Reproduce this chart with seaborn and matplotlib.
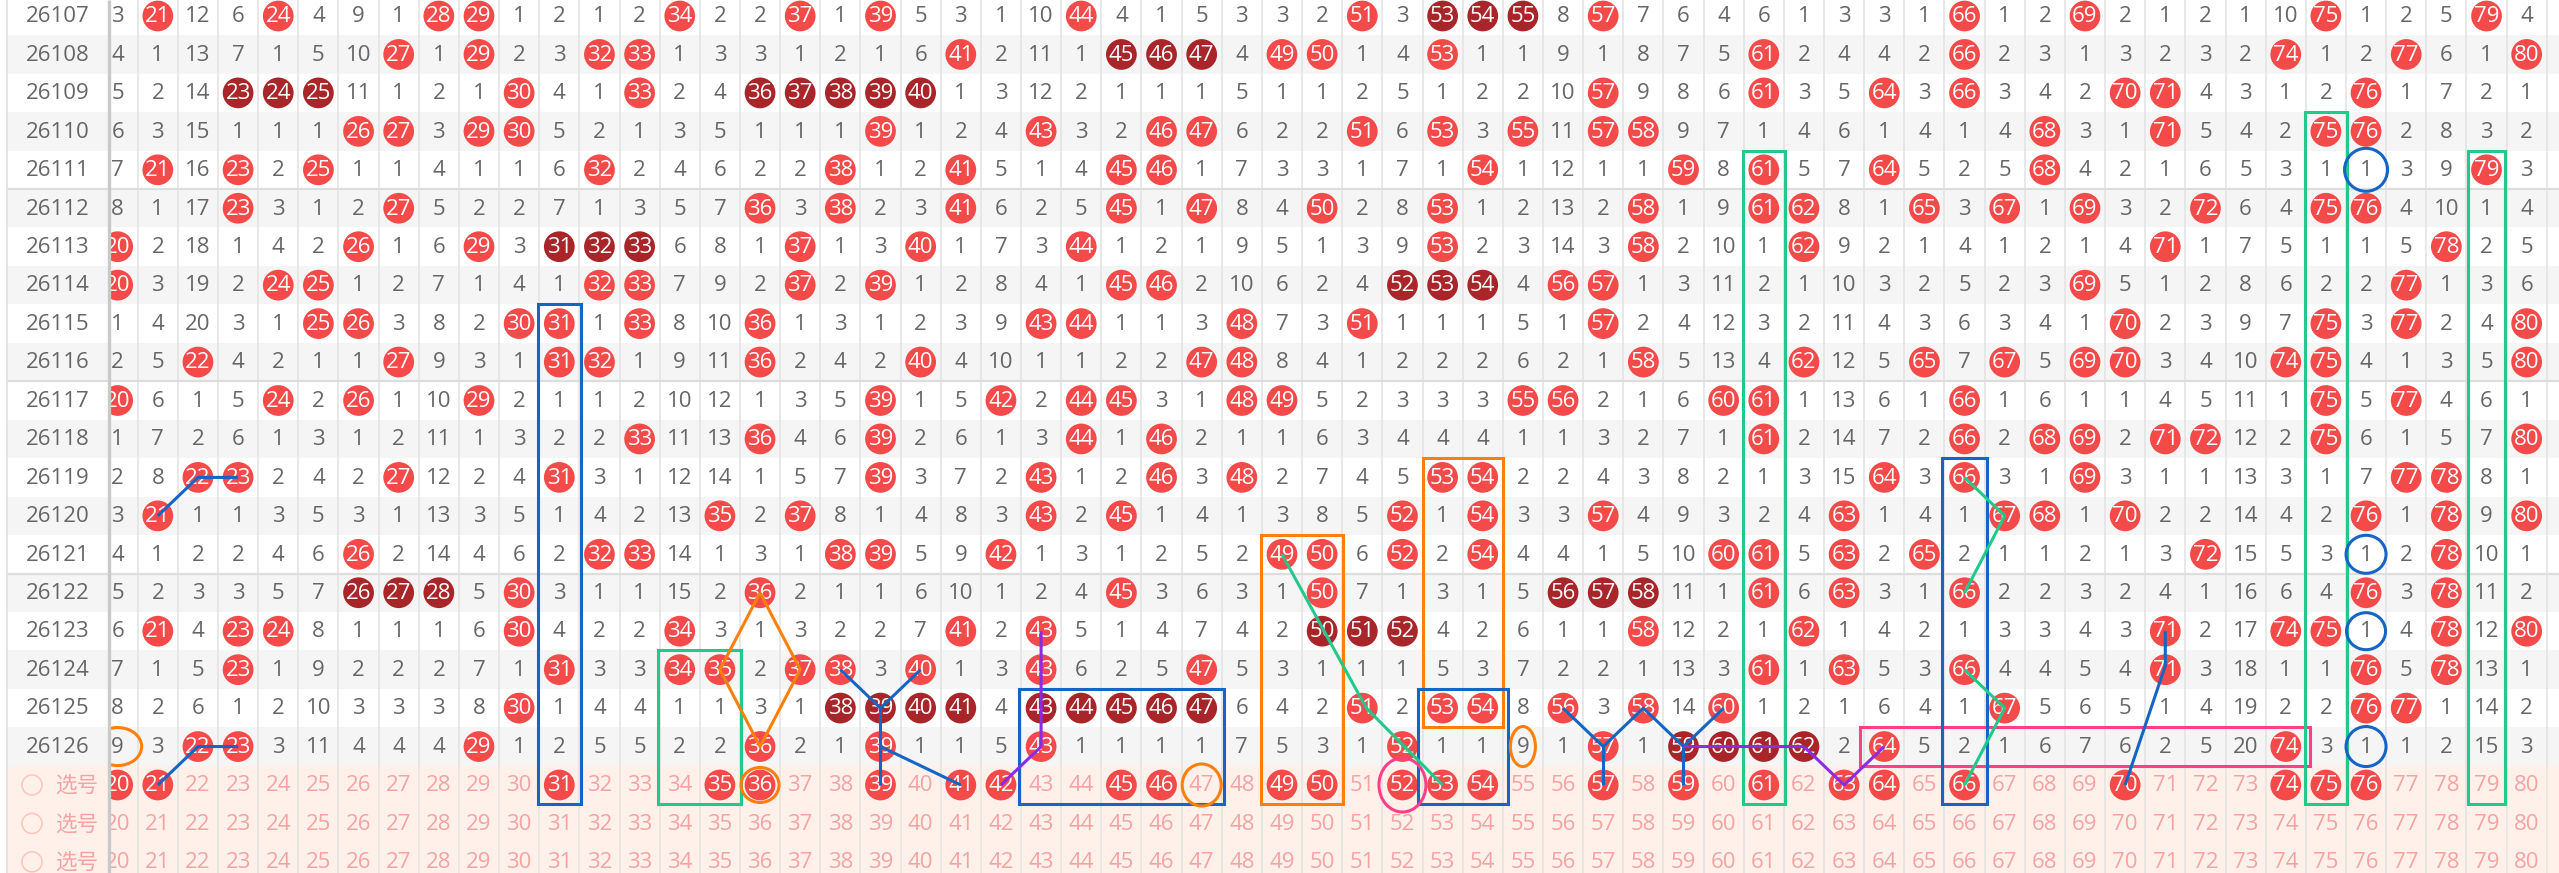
import matplotlib
matplotlib.use("Agg")
import matplotlib.pyplot as plt
from matplotlib.patches import Rectangle, Ellipse
import pandas as pd
import seaborn as sns

# periods shown in the trend table, numbers 20..80 are visible
periods = [26107, 26108, 26109, 26110, 26111, 26112, 26113, 26114, 26115, 26116,
           26117, 26118, 26119, 26120, 26121, 26122, 26123, 26124, 26125, 26126]
numbers = list(range(20, 81))

# omission count per number (20..80), 0 = drawn in that period
miss_26107 = [3, 0, 12, 6, 0, 4, 9, 1, 0, 0, 1, 2, 1, 2, 0, 2, 2, 0, 1, 0, 5, 3, 1, 10, 0, 4, 1, 5, 3, 3,
              2, 0, 3, 0, 0, 0, 8, 0, 7, 6, 4, 6, 1, 3, 3, 1, 0, 1, 2, 0, 2, 1, 2, 1, 10, 0, 1, 2, 5, 0, 4]
miss_26108 = [4, 1, 13, 7, 1, 5, 10, 0, 1, 0, 2, 3, 0, 0, 1, 3, 3, 1, 2, 1, 6, 0, 2, 11, 1, 0, 0, 0, 4, 0,
              0, 1, 4, 0, 1, 1, 9, 1, 8, 7, 5, 0, 2, 4, 4, 2, 0, 2, 3, 1, 3, 2, 3, 2, 0, 1, 2, 0, 6, 1, 0]
miss_26109 = [5, 2, 14, 0, 0, 0, 11, 1, 2, 1, 0, 4, 1, 0, 2, 4, 0, 0, 0, 0, 0, 1, 3, 12, 2, 1, 1, 1, 5, 1,
              1, 2, 5, 1, 2, 2, 10, 0, 9, 8, 6, 0, 3, 5, 0, 3, 0, 3, 4, 2, 0, 0, 4, 3, 1, 2, 0, 1, 7, 2, 1]
miss_26110 = [6, 3, 15, 1, 1, 1, 0, 0, 3, 0, 0, 5, 2, 1, 3, 5, 1, 1, 1, 0, 1, 2, 4, 0, 3, 2, 0, 0, 6, 2,
              2, 0, 6, 0, 3, 0, 11, 0, 0, 9, 7, 1, 4, 6, 1, 4, 1, 4, 0, 3, 1, 0, 5, 4, 2, 0, 0, 2, 8, 3, 2]
miss_26111 = [7, 0, 16, 0, 2, 0, 1, 1, 4, 1, 1, 6, 0, 2, 4, 6, 2, 2, 0, 1, 2, 0, 5, 1, 4, 0, 0, 1, 7, 3,
              3, 1, 7, 1, 0, 1, 12, 1, 1, 0, 8, 0, 5, 7, 0, 5, 2, 5, 0, 4, 2, 1, 6, 5, 3, 1, 1, 3, 9, 0, 3]
miss_26112 = [8, 1, 17, 0, 3, 1, 2, 0, 5, 2, 2, 7, 1, 3, 5, 7, 0, 3, 0, 2, 3, 0, 6, 2, 5, 0, 1, 0, 8, 4,
              0, 2, 8, 0, 1, 2, 13, 2, 0, 1, 9, 0, 0, 8, 1, 0, 3, 0, 1, 0, 3, 2, 0, 6, 4, 0, 0, 4, 10, 1, 4]
miss_26113 = [0, 2, 18, 1, 4, 2, 0, 1, 6, 0, 3, 0, 0, 0, 6, 8, 1, 0, 1, 3, 0, 1, 7, 3, 0, 1, 2, 1, 9, 5,
              1, 3, 9, 0, 2, 3, 14, 3, 0, 2, 10, 1, 0, 9, 2, 1, 4, 1, 2, 1, 4, 0, 1, 7, 5, 1, 1, 5, 0, 2, 5]
miss_26114 = [0, 3, 19, 2, 0, 0, 1, 2, 7, 1, 4, 1, 0, 0, 7, 9, 2, 0, 2, 0, 1, 2, 8, 4, 1, 0, 0, 2, 10, 6,
              2, 4, 0, 0, 0, 4, 0, 0, 1, 3, 11, 2, 1, 10, 3, 2, 5, 2, 3, 0, 5, 1, 2, 8, 6, 2, 2, 0, 1, 3, 6]
miss_26115 = [1, 4, 20, 3, 1, 0, 0, 3, 8, 2, 0, 0, 1, 0, 8, 10, 0, 1, 3, 1, 2, 3, 9, 0, 0, 1, 1, 3, 0, 7,
              3, 0, 1, 1, 1, 5, 1, 0, 2, 4, 12, 3, 2, 11, 4, 3, 6, 3, 4, 1, 0, 2, 3, 9, 7, 0, 3, 0, 2, 4, 0]
miss_26116 = [2, 5, 0, 4, 2, 1, 1, 0, 9, 3, 1, 0, 0, 1, 9, 11, 0, 2, 4, 2, 0, 4, 10, 1, 1, 2, 2, 0, 0, 8,
              4, 1, 2, 2, 2, 6, 2, 1, 0, 5, 13, 4, 0, 12, 5, 0, 7, 0, 5, 0, 0, 3, 4, 10, 0, 0, 4, 1, 3, 5, 0]
miss_26117 = [0, 6, 1, 5, 0, 2, 0, 1, 10, 0, 2, 1, 1, 2, 10, 12, 1, 3, 5, 0, 1, 5, 0, 2, 0, 0, 3, 1, 0, 0,
              5, 2, 3, 3, 3, 0, 0, 2, 1, 6, 0, 0, 1, 13, 6, 1, 0, 1, 6, 1, 1, 4, 5, 11, 1, 0, 5, 0, 4, 6, 1]
miss_26118 = [1, 7, 2, 6, 1, 3, 1, 2, 11, 1, 3, 2, 2, 0, 11, 13, 0, 4, 6, 0, 2, 6, 1, 3, 0, 1, 0, 2, 1, 1,
              6, 3, 4, 4, 4, 1, 1, 3, 2, 7, 1, 0, 2, 14, 7, 2, 0, 2, 0, 0, 2, 0, 0, 12, 2, 0, 6, 1, 5, 7, 0]
miss_26119 = [2, 8, 0, 0, 2, 4, 2, 0, 12, 2, 4, 0, 3, 1, 12, 14, 1, 5, 7, 0, 3, 7, 2, 0, 1, 2, 0, 3, 0, 2,
              7, 4, 5, 0, 0, 2, 2, 4, 3, 8, 2, 1, 3, 15, 0, 3, 0, 3, 1, 0, 3, 1, 1, 13, 3, 1, 7, 0, 0, 8, 1]
miss_26120 = [3, 0, 1, 1, 3, 5, 3, 1, 13, 3, 5, 1, 4, 2, 13, 0, 2, 0, 8, 1, 4, 8, 3, 0, 2, 0, 1, 4, 1, 3,
              8, 5, 0, 1, 0, 3, 3, 0, 4, 9, 3, 2, 4, 0, 1, 4, 1, 0, 0, 1, 0, 2, 2, 14, 4, 2, 0, 1, 0, 9, 0]
miss_26121 = [4, 1, 2, 2, 4, 6, 0, 2, 14, 4, 6, 2, 0, 0, 14, 1, 3, 1, 0, 0, 5, 9, 0, 1, 3, 1, 2, 5, 2, 0,
              0, 6, 0, 2, 0, 4, 4, 1, 5, 10, 0, 0, 5, 0, 2, 0, 2, 1, 1, 2, 1, 3, 0, 15, 5, 3, 1, 2, 0, 10, 1]
miss_26122 = [5, 2, 3, 3, 5, 7, 0, 0, 0, 5, 0, 3, 1, 1, 15, 2, 0, 2, 1, 1, 6, 10, 1, 2, 4, 0, 3, 6, 3, 1,
              0, 7, 1, 3, 1, 5, 0, 0, 0, 11, 1, 0, 6, 0, 3, 1, 0, 2, 2, 3, 2, 4, 1, 16, 6, 4, 0, 3, 0, 11, 2]
miss_26123 = [6, 0, 4, 0, 0, 8, 1, 1, 1, 6, 0, 4, 2, 2, 0, 3, 1, 3, 2, 2, 7, 0, 2, 0, 5, 1, 4, 7, 4, 2,
              0, 0, 0, 4, 2, 6, 1, 1, 0, 12, 2, 1, 0, 1, 4, 2, 1, 3, 3, 4, 3, 0, 2, 17, 0, 0, 1, 4, 0, 12, 0]
miss_26124 = [7, 1, 5, 0, 1, 9, 2, 2, 2, 7, 1, 0, 3, 3, 0, 0, 2, 0, 0, 3, 0, 1, 3, 0, 6, 2, 5, 0, 5, 3,
              1, 1, 1, 5, 3, 7, 2, 2, 1, 13, 3, 0, 1, 0, 5, 3, 0, 4, 4, 5, 4, 0, 3, 18, 1, 1, 0, 5, 0, 13, 1]
miss_26125 = [8, 2, 6, 1, 2, 10, 3, 3, 3, 8, 0, 1, 4, 4, 1, 1, 3, 1, 0, 0, 0, 0, 4, 0, 0, 0, 0, 0, 6, 4,
              2, 0, 2, 0, 0, 8, 0, 3, 0, 14, 0, 1, 2, 1, 6, 4, 1, 0, 5, 6, 5, 1, 4, 19, 2, 2, 0, 0, 1, 14, 2]
miss_26126 = [9, 3, 0, 0, 3, 11, 4, 4, 4, 0, 1, 2, 5, 5, 2, 2, 0, 2, 1, 0, 1, 1, 5, 0, 1, 1, 1, 1, 7, 5,
              3, 1, 0, 1, 1, 9, 1, 0, 1, 0, 0, 0, 0, 2, 0, 5, 2, 1, 6, 7, 6, 2, 5, 20, 0, 3, 1, 1, 2, 15, 3]

omission = [miss_26107, miss_26108, miss_26109, miss_26110, miss_26111, miss_26112, miss_26113,
            miss_26114, miss_26115, miss_26116, miss_26117, miss_26118, miss_26119, miss_26120,
            miss_26121, miss_26122, miss_26123, miss_26124, miss_26125, miss_26126]

# numbers ticked in the first "选号" row
picked = [20, 21, 31, 35, 36, 39, 41, 42, 45, 46, 49, 50, 52, 53, 54, 57, 59, 61, 63, 64, 66, 70, 74, 75, 76]
pick_label = "选号"

RED = "#f54a4a"
DARK = "#a8262a"
GRAY_TXT = "#666666"
PINK_TXT = "#f7a3a3"
PINK_BG = "#fff0ea"
ALT_BG = "#f5f5f5"
BLUE = "#1565c4"
GREEN = "#22c98b"
ORANGE = "#ff7f0a"
PURPLE = "#8c2be4"
MAGENTA = "#ff3f86"

# user drawn marks, in (number, period) cells
boxes = [
    (BLUE, 31, 31, 26115, "pick", 0.03),
    (GREEN, 34, 35, 26124, "pick", 0.03),
    (BLUE, 43, 47, 26125, "pick", 0.06),
    (ORANGE, 49, 50, 26121, "pick", 0.03),
    (ORANGE, 53, 54, 26119, 26125, 0.0),
    (BLUE, 53, 54, 26125, "pick", 0.12),
    (GREEN, 61, 61, 26111, "pick", 0.03),
    (MAGENTA, 64, 74, 26126, 26126, 0.1),
    (BLUE, 66, 66, 26119, "pick", 0.06),
    (GREEN, 75, 75, 26110, "pick", 0.03),
    (GREEN, 79, 79, 26111, "pick", -0.05),
]
rings = [
    (ORANGE, 20, 26126, 48, 38),
    (ORANGE, 36, "pick", 38, 35),
    (ORANGE, 47, "pick", 39, 42),
    (MAGENTA, 52, "pick", 47, 54),
    (ORANGE, 55, 26126, 25, 40),
    (BLUE, 76, 26111, 43, 43),
    (BLUE, 76, 26121, 40, 38),
    (BLUE, 76, 26123, 39, 37),
    (BLUE, 76, 26126, 40, 40),
]
paths = [
    (BLUE, [(21, 26120), (22, 26119), (23, 26119)]),
    (BLUE, [(21, "pick"), (22, 26126), (23, 26126)]),
    (ORANGE, [(36, 26122), (37, 26124), (36, 26126), (35, 26124), (36, 26122)]),
    (BLUE, [(38, 26124), (39, 26125), (40, 26124)]),
    (BLUE, [(39, 26125), (39, "pick")]),
    (BLUE, [(39, 26126), (41, "pick")]),
    (PURPLE, [(42, "pick"), (43, 26126), (43, 26123)]),
    (GREEN, [(49, 26121), (51.1, 26125), (53, "pick")]),
    (BLUE, [(56, 26125), (57, 26126), (58, 26125), (59, 26126), (60, 26125)]),
    (BLUE, [(57, 26126), (57, "pick")]),
    (BLUE, [(59, 26126), (59, "pick")]),
    (PURPLE, [(59, 26126), (62, 26126), (63, "pick"), (64, 26126)]),
    (GREEN, [(66, 26119), (67, 26120), (66, 26122)]),
    (GREEN, [(66, 26124), (67, 26125), (66, "pick")]),
    (BLUE, [(71, 26123), (71, 26123.9), (70, "pick")]),
]

sns.set_style("white")
plt.rcParams["font.family"] = ["Open Sans", "Noto Sans CJK SC", "DejaVu Sans"]

W, H, DPI = 2559, 873, 100
COL_W, ROW_H = 40.15, 38.45
X_LEFT = 21 - 157.8 / COL_W
X_RIGHT = X_LEFT + W / COL_W
Y_TOP = -16 / ROW_H
FS = 16


def px_x(px):
    return X_LEFT + px / COL_W


n_per = len(periods)
n_rows = n_per + 3


def row_of(p):
    if p == "pick":
        return n_per
    if p in periods:
        return periods.index(p)
    return periods.index(int(p)) + (p - int(p))


fig = plt.figure(figsize=(W / DPI, H / DPI), dpi=DPI)
ax = fig.add_axes([0, 0, 1, 1])

# row backgrounds
def row_color(r):
    if r >= n_per:
        return PINK_BG
    return ALT_BG if r % 2 else "white"


for r in range(n_rows):
    ax.add_patch(Rectangle((px_x(7), r - 0.5), X_RIGHT - px_x(7), 1,
                           fc=row_color(r), ec="none", zorder=0))

ax.vlines([n + 0.5 for n in numbers], Y_TOP, n_rows, color="#e2e2e2", lw=1.1, zorder=1)
ax.hlines([4.5, 9.5, 14.5], px_x(7), X_RIGHT, color="#dddddd", lw=1.6, zorder=1)

# balls
recs = []
for r, row in enumerate(omission):
    hit = {n for n, v in zip(numbers, row) if v == 0}
    for n in sorted(hit):
        lo = n
        while lo - 1 in hit:
            lo -= 1
        hi = n
        while hi + 1 in hit:
            hi += 1
        recs.append({"num": n, "row": r, "kind": "run" if hi - lo >= 2 else "hit"})
for n in picked:
    recs.append({"num": n, "row": n_per, "kind": "hit"})
balls = pd.DataFrame(recs)

sns.scatterplot(data=balls, x="num", y="row", hue="kind", palette={"hit": RED, "run": DARK},
                s=490, linewidth=0, legend=False, ax=ax, zorder=2)

TY = 0.02
for r, row in enumerate(omission):
    for n, v in zip(numbers, row):
        if v == 0:
            ax.text(n, r + TY, str(n), color="white", ha="center", va="center", fontsize=FS, zorder=3)
        else:
            ax.text(n, r + TY, str(v), color=GRAY_TXT, ha="center", va="center", fontsize=FS, zorder=3)
for k in range(3):
    r = n_per + k
    for n in numbers:
        if k == 0 and n in picked:
            ax.text(n, r + TY, str(n), color="white", ha="center", va="center", fontsize=FS, zorder=3)
        else:
            ax.text(n, r + TY, str(n), color=PINK_TXT, ha="center", va="center", fontsize=FS, zorder=3)

# user marks
LW = 2.2
for col, n0, n1, p0, p1, pad in boxes:
    r0, r1 = row_of(p0), row_of(p1)
    ax.add_patch(Rectangle((n0 - 0.5 - pad, r0 - 0.5), n1 - n0 + 1 + 2 * pad, r1 - r0 + 1,
                           fill=False, ec=col, lw=LW, zorder=4))
for col, n, p, wpx, hpx in rings:
    ax.add_patch(Ellipse((n, row_of(p)), wpx / COL_W, hpx / ROW_H, fill=False, ec=col, lw=LW, zorder=4))
for col, pts in paths:
    ax.plot([a for a, _ in pts], [row_of(b) for _, b in pts], color=col, lw=LW, zorder=4,
            solid_capstyle="butt")

# fixed period column
ax.add_patch(Rectangle((X_LEFT, Y_TOP), px_x(7) - X_LEFT, n_rows + 1, fc="white", ec="none", zorder=5))
for r in range(n_rows):
    ax.add_patch(Rectangle((px_x(7), r - 0.5), px_x(108) - px_x(7), 1,
                           fc=row_color(r), ec="none", zorder=5))
ax.hlines([4.5, 9.5, 14.5], px_x(7), px_x(108), color="#dddddd", lw=1.6, zorder=6)
for r, p in enumerate(periods):
    ax.text(px_x(58), r + TY, str(p), color=GRAY_TXT, ha="center", va="center", fontsize=FS, zorder=6)
for k in range(3):
    r = n_per + k
    ax.add_patch(Ellipse((px_x(32), r), 20 / COL_W, 20 / ROW_H, fill=False, ec="#ffc4bb", lw=1.1, zorder=6))
    ax.text(px_x(77), r + TY, pick_label, color=PINK_TXT, ha="center", va="center", fontsize=15.5,
            family=["Noto Sans CJK SC", "DejaVu Sans"], zorder=6)
ax.vlines([px_x(7)], Y_TOP, n_rows, color="#e0e0e0", lw=1.2, zorder=6)
ax.vlines([px_x(108.5)], Y_TOP, n_rows, color="#c9c9c9", lw=2.4, zorder=6)

ax.set_xlim(X_LEFT, X_RIGHT)
ax.set_ylim(Y_TOP + H / ROW_H, Y_TOP)
ax.axis("off")

fig.savefig("out.png", dpi=DPI)
